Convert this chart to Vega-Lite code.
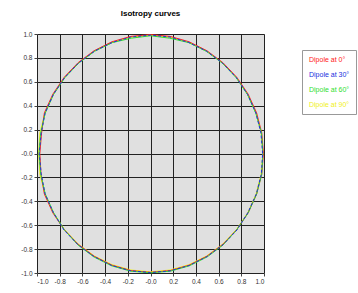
{
  "$schema": "https://vega.github.io/schema/vega-lite/v6.json",
  "width": 227,
  "height": 239,
  "autosize": {"type": "none"},
  "padding": {"left": 37, "top": 34, "right": 94, "bottom": 20},
  "background": "white",
  "title": {"text": "Isotropy curves", "fontSize": 8, "fontWeight": "bold", "font": "Liberation Sans", "color": "#000", "offset": 13, "anchor": "middle"},
  "config": {
    "view": {"fill": "#e0e0e0", "stroke": "#c8c8c8"},
    "axis": {"gridColor": "#222", "gridOpacity": 1, "gridWidth": 1, "domain": false, "tickColor": "#444", "tickSize": 3, "labelFont": "Liberation Sans", "labelFontSize": 6.5, "labelColor": "#333", "labelPadding": 2, "title": null}
  },
  "data": {"values": [
    {"s":"Dipole at 90°","i":0,"x":0.99,"y":0},{"s":"Dipole at 90°","i":1,"x":0.975,"y":0.172},{"s":"Dipole at 90°","i":2,"x":0.93,"y":0.339},{"s":"Dipole at 90°","i":3,"x":0.857,"y":0.495},{"s":"Dipole at 90°","i":4,"x":0.758,"y":0.636},{"s":"Dipole at 90°","i":5,"x":0.636,"y":0.758},{"s":"Dipole at 90°","i":6,"x":0.495,"y":0.857},{"s":"Dipole at 90°","i":7,"x":0.339,"y":0.93},{"s":"Dipole at 90°","i":8,"x":0.172,"y":0.975},{"s":"Dipole at 90°","i":9,"x":0,"y":0.99},{"s":"Dipole at 90°","i":10,"x":-0.172,"y":0.975},{"s":"Dipole at 90°","i":11,"x":-0.339,"y":0.93},{"s":"Dipole at 90°","i":12,"x":-0.495,"y":0.857},{"s":"Dipole at 90°","i":13,"x":-0.636,"y":0.758},{"s":"Dipole at 90°","i":14,"x":-0.758,"y":0.636},{"s":"Dipole at 90°","i":15,"x":-0.857,"y":0.495},{"s":"Dipole at 90°","i":16,"x":-0.93,"y":0.339},{"s":"Dipole at 90°","i":17,"x":-0.975,"y":0.172},{"s":"Dipole at 90°","i":18,"x":-0.985,"y":0},{"s":"Dipole at 90°","i":19,"x":-0.975,"y":-0.172},{"s":"Dipole at 90°","i":20,"x":-0.93,"y":-0.339},{"s":"Dipole at 90°","i":21,"x":-0.857,"y":-0.495},{"s":"Dipole at 90°","i":22,"x":-0.758,"y":-0.636},{"s":"Dipole at 90°","i":23,"x":-0.636,"y":-0.758},{"s":"Dipole at 90°","i":24,"x":-0.495,"y":-0.857},{"s":"Dipole at 90°","i":25,"x":-0.339,"y":-0.93},{"s":"Dipole at 90°","i":26,"x":-0.172,"y":-0.975},{"s":"Dipole at 90°","i":27,"x":0,"y":-0.99},{"s":"Dipole at 90°","i":28,"x":0.172,"y":-0.975},{"s":"Dipole at 90°","i":29,"x":0.339,"y":-0.93},{"s":"Dipole at 90°","i":30,"x":0.495,"y":-0.857},{"s":"Dipole at 90°","i":31,"x":0.636,"y":-0.758},{"s":"Dipole at 90°","i":32,"x":0.758,"y":-0.636},{"s":"Dipole at 90°","i":33,"x":0.857,"y":-0.495},{"s":"Dipole at 90°","i":34,"x":0.93,"y":-0.339},{"s":"Dipole at 90°","i":35,"x":0.975,"y":-0.172},{"s":"Dipole at 90°","i":36,"x":0.99,"y":0},

    {"s":"Dipole at 0°","i":0,"x":0.995,"y":0},{"s":"Dipole at 0°","i":1,"x":0.98,"y":0.173},{"s":"Dipole at 0°","i":2,"x":0.935,"y":0.34},{"s":"Dipole at 0°","i":3,"x":0.86,"y":0.497},{"s":"Dipole at 0°","i":4,"x":0.76,"y":0.638},{"s":"Dipole at 0°","i":5,"x":0.638,"y":0.76},{"s":"Dipole at 0°","i":6,"x":0.497,"y":0.86},{"s":"Dipole at 0°","i":7,"x":0.34,"y":0.935},{"s":"Dipole at 0°","i":8,"x":0.173,"y":0.98},{"s":"Dipole at 0°","i":9,"x":0,"y":0.995},{"s":"Dipole at 0°","i":10,"x":-0.173,"y":0.98},{"s":"Dipole at 0°","i":11,"x":-0.34,"y":0.935},{"s":"Dipole at 0°","i":12,"x":-0.497,"y":0.86},{"s":"Dipole at 0°","i":13,"x":-0.638,"y":0.76},{"s":"Dipole at 0°","i":14,"x":-0.76,"y":0.638},{"s":"Dipole at 0°","i":15,"x":-0.86,"y":0.497},{"s":"Dipole at 0°","i":16,"x":-0.935,"y":0.34},{"s":"Dipole at 0°","i":17,"x":-0.96,"y":0.17},{"s":"Dipole at 0°","i":18,"x":-0.975,"y":0},{"s":"Dipole at 0°","i":19,"x":-0.965,"y":-0.17},{"s":"Dipole at 0°","i":20,"x":-0.935,"y":-0.34},{"s":"Dipole at 0°","i":21,"x":-0.86,"y":-0.497},{"s":"Dipole at 0°","i":22,"x":-0.76,"y":-0.638},{"s":"Dipole at 0°","i":23,"x":-0.638,"y":-0.76},{"s":"Dipole at 0°","i":24,"x":-0.497,"y":-0.86},{"s":"Dipole at 0°","i":25,"x":-0.34,"y":-0.935},{"s":"Dipole at 0°","i":26,"x":-0.173,"y":-0.98},{"s":"Dipole at 0°","i":27,"x":0,"y":-0.995},{"s":"Dipole at 0°","i":28,"x":0.173,"y":-0.98},{"s":"Dipole at 0°","i":29,"x":0.34,"y":-0.935},{"s":"Dipole at 0°","i":30,"x":0.497,"y":-0.86},{"s":"Dipole at 0°","i":31,"x":0.638,"y":-0.76},{"s":"Dipole at 0°","i":32,"x":0.76,"y":-0.638},{"s":"Dipole at 0°","i":33,"x":0.86,"y":-0.497},{"s":"Dipole at 0°","i":34,"x":0.935,"y":-0.34},{"s":"Dipole at 0°","i":35,"x":0.98,"y":-0.173},{"s":"Dipole at 0°","i":36,"x":0.995,"y":0},

    {"s":"Dipole at 60°","i":0,"x":0.99,"y":0},{"s":"Dipole at 60°","i":1,"x":0.978,"y":0.17},{"s":"Dipole at 60°","i":2,"x":0.928,"y":0.336},{"s":"Dipole at 60°","i":3,"x":0.855,"y":0.493},{"s":"Dipole at 60°","i":4,"x":0.755,"y":0.634},{"s":"Dipole at 60°","i":5,"x":0.634,"y":0.755},{"s":"Dipole at 60°","i":6,"x":0.493,"y":0.855},{"s":"Dipole at 60°","i":7,"x":0.336,"y":0.928},{"s":"Dipole at 60°","i":8,"x":0.17,"y":0.965},{"s":"Dipole at 60°","i":9,"x":0,"y":0.985},{"s":"Dipole at 60°","i":10,"x":-0.17,"y":0.965},{"s":"Dipole at 60°","i":11,"x":-0.336,"y":0.928},{"s":"Dipole at 60°","i":12,"x":-0.493,"y":0.855},{"s":"Dipole at 60°","i":13,"x":-0.634,"y":0.755},{"s":"Dipole at 60°","i":14,"x":-0.755,"y":0.634},{"s":"Dipole at 60°","i":15,"x":-0.855,"y":0.493},{"s":"Dipole at 60°","i":16,"x":-0.928,"y":0.336},{"s":"Dipole at 60°","i":17,"x":-0.968,"y":0.17},{"s":"Dipole at 60°","i":18,"x":-0.982,"y":0},{"s":"Dipole at 60°","i":19,"x":-0.968,"y":-0.17},{"s":"Dipole at 60°","i":20,"x":-0.928,"y":-0.336},{"s":"Dipole at 60°","i":21,"x":-0.855,"y":-0.493},{"s":"Dipole at 60°","i":22,"x":-0.76,"y":-0.638},{"s":"Dipole at 60°","i":23,"x":-0.64,"y":-0.765},{"s":"Dipole at 60°","i":24,"x":-0.5,"y":-0.865},{"s":"Dipole at 60°","i":25,"x":-0.342,"y":-0.94},{"s":"Dipole at 60°","i":26,"x":-0.174,"y":-0.985},{"s":"Dipole at 60°","i":27,"x":0,"y":-0.998},{"s":"Dipole at 60°","i":28,"x":0.174,"y":-0.985},{"s":"Dipole at 60°","i":29,"x":0.342,"y":-0.94},{"s":"Dipole at 60°","i":30,"x":0.5,"y":-0.865},{"s":"Dipole at 60°","i":31,"x":0.64,"y":-0.765},{"s":"Dipole at 60°","i":32,"x":0.76,"y":-0.638},{"s":"Dipole at 60°","i":33,"x":0.86,"y":-0.497},{"s":"Dipole at 60°","i":34,"x":0.935,"y":-0.34},{"s":"Dipole at 60°","i":35,"x":0.98,"y":-0.173},{"s":"Dipole at 60°","i":36,"x":0.99,"y":0},

    {"s":"Dipole at 30°","i":0,"x":0.988,"y":0},{"s":"Dipole at 30°","i":1,"x":0.973,"y":0.171},{"s":"Dipole at 30°","i":2,"x":0.929,"y":0.338},{"s":"Dipole at 30°","i":3,"x":0.856,"y":0.494},{"s":"Dipole at 30°","i":4,"x":0.757,"y":0.635},{"s":"Dipole at 30°","i":5,"x":0.635,"y":0.757},{"s":"Dipole at 30°","i":6,"x":0.494,"y":0.856},{"s":"Dipole at 30°","i":7,"x":0.338,"y":0.929},{"s":"Dipole at 30°","i":8,"x":0.171,"y":0.975},{"s":"Dipole at 30°","i":9,"x":0,"y":0.99},{"s":"Dipole at 30°","i":10,"x":-0.171,"y":0.975},{"s":"Dipole at 30°","i":11,"x":-0.338,"y":0.929},{"s":"Dipole at 30°","i":12,"x":-0.494,"y":0.856},{"s":"Dipole at 30°","i":13,"x":-0.635,"y":0.757},{"s":"Dipole at 30°","i":14,"x":-0.757,"y":0.635},{"s":"Dipole at 30°","i":15,"x":-0.856,"y":0.494},{"s":"Dipole at 30°","i":16,"x":-0.929,"y":0.338},{"s":"Dipole at 30°","i":17,"x":-0.963,"y":0.171},{"s":"Dipole at 30°","i":18,"x":-0.98,"y":0},{"s":"Dipole at 30°","i":19,"x":-0.963,"y":-0.171},{"s":"Dipole at 30°","i":20,"x":-0.929,"y":-0.338},{"s":"Dipole at 30°","i":21,"x":-0.856,"y":-0.494},{"s":"Dipole at 30°","i":22,"x":-0.762,"y":-0.64},{"s":"Dipole at 30°","i":23,"x":-0.64,"y":-0.762},{"s":"Dipole at 30°","i":24,"x":-0.498,"y":-0.862},{"s":"Dipole at 30°","i":25,"x":-0.341,"y":-0.937},{"s":"Dipole at 30°","i":26,"x":-0.173,"y":-0.982},{"s":"Dipole at 30°","i":27,"x":0,"y":-0.996},{"s":"Dipole at 30°","i":28,"x":0.173,"y":-0.982},{"s":"Dipole at 30°","i":29,"x":0.341,"y":-0.937},{"s":"Dipole at 30°","i":30,"x":0.498,"y":-0.862},{"s":"Dipole at 30°","i":31,"x":0.64,"y":-0.762},{"s":"Dipole at 30°","i":32,"x":0.762,"y":-0.64},{"s":"Dipole at 30°","i":33,"x":0.858,"y":-0.495},{"s":"Dipole at 30°","i":34,"x":0.932,"y":-0.339},{"s":"Dipole at 30°","i":35,"x":0.977,"y":-0.172},{"s":"Dipole at 30°","i":36,"x":0.988,"y":0}
  ]},
  "encoding": {
    "x": {"field": "x", "type": "quantitative", "scale": {"domain": [-1, 1], "nice": false, "zero": false},
      "axis": {"values": [-1, -0.8, -0.6, -0.4, -0.2, 0, 0.2, 0.4, 0.6, 0.8, 1], "labelExpr": "datum.value == 0 ? '-0.0' : replace(format(datum.value, '.1f'), '\u2212', '-')"}},
    "y": {"field": "y", "type": "quantitative", "scale": {"domain": [-1, 1], "nice": false, "zero": false},
      "axis": {"values": [-1, -0.8, -0.6, -0.4, -0.2, 0, 0.2, 0.4, 0.6, 0.8, 1], "labelExpr": "datum.value == 0 ? '-0.0' : replace(format(datum.value, '.1f'), '\u2212', '-')"}},
    "order": {"field": "i", "type": "quantitative"},
    "color": {"field": "s", "type": "nominal",
      "scale": {"domain": ["Dipole at 0°", "Dipole at 30°", "Dipole at 60°", "Dipole at 90°"], "range": ["#ff2020", "#2030e0", "#30e030", "#f0f020"]},
      "legend": {"title": null, "orient": "none", "legendX": 265, "legendY": 16, "fillColor": "white", "strokeColor": "#999", "padding": 6, "rowPadding": 7, "symbolSize": 0, "symbolStrokeWidth": 0, "symbolOpacity": 0, "labelOffset": -6, "labelFont": "Liberation Sans", "labelFontSize": 7, "labelLimit": 60,
        "encode": {"labels": {"update": {"fill": {"signal": "scale('color', datum.value)"}}}, "legend": {"update": {"height": {"value": 67}}}}}
    }
  },
  "layer": [
    {"transform": [{"filter": "datum.s == 'Dipole at 0°' || datum.s == 'Dipole at 90°'"}], "mark": {"type": "line", "strokeWidth": 1}},
    {"transform": [{"filter": "datum.s == 'Dipole at 60°'"}], "mark": {"type": "line", "strokeWidth": 1}},
    {"transform": [{"filter": "datum.s == 'Dipole at 30°'"}], "mark": {"type": "line", "strokeWidth": 1, "strokeDash": [3, 2]}}
  ]
}
